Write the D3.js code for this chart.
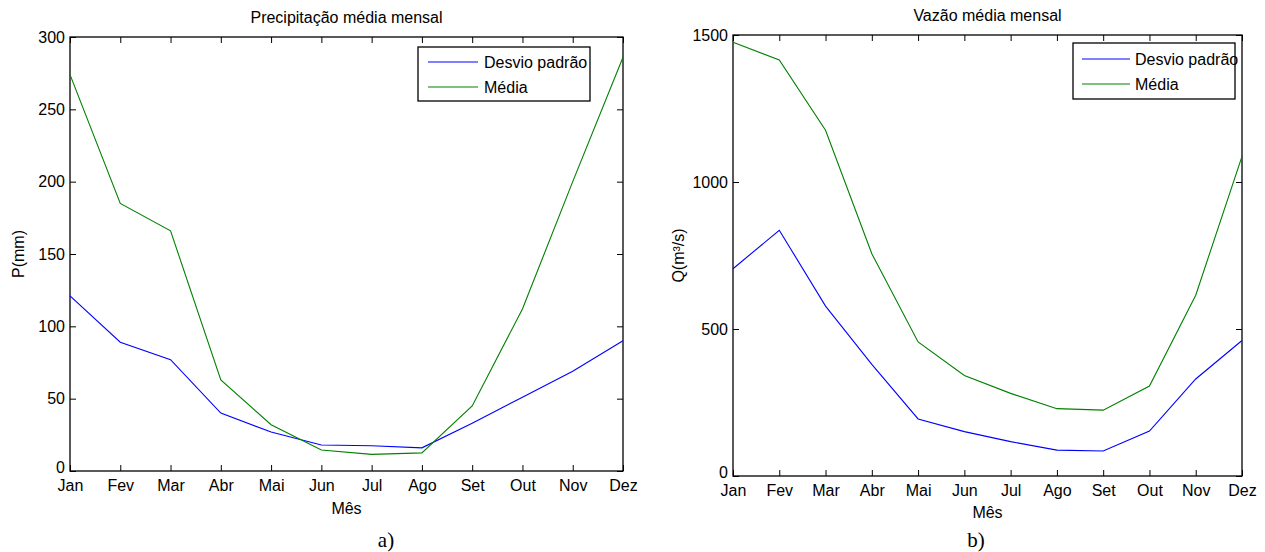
<!DOCTYPE html>
<html>
<head>
<meta charset="utf-8">
<script src="https://cdn.jsdelivr.net/npm/d3@7"></script>
<style>
  html, body { margin: 0; padding: 0; background: #fff; }
  svg text { font-family: "Liberation Sans", Arial, sans-serif; fill: #000; }
</style>
</head>
<body>
<svg id="fig" width="1265" height="552"></svg>
<script>
// Months on the horizontal axis
const months = ["Jan", "Fev", "Mar", "Abr", "Mai", "Jun", "Jul", "Ago", "Set", "Out", "Nov", "Dez"];

// Monthly precipitation (mm)
const precipDesvio = [121, 89, 77, 40, 27, 18, 17.5, 16, 33, 51, 69, 90];
const precipMedia  = [274, 185, 166, 63, 32, 14.5, 11.5, 12.5, 45, 112, 200, 286];
const precipTicks  = [0, 50, 100, 150, 200, 250, 300];

// Monthly discharge (m³/s)
const vazaoDesvio = [705, 836, 578, 380, 194, 151, 117, 88, 85, 153, 330, 461];
const vazaoMedia  = [1475, 1415, 1176, 756, 456, 342, 281, 229, 224, 306, 615, 1087];
const vazaoTicks  = [0, 500, 1000, 1500];

const seriesNames = ["Desvio padrão", "Média"];
const seriesColors = ["#0000ff", "#008000"];

const svg = d3.select("#fig");

function panel(opt) {
  const g = svg.append("g");
  const x = d3.scaleLinear().domain([0, months.length - 1]).range([opt.x0, opt.x1]);
  const y = d3.scaleLinear().domain([0, opt.ymax]).range([opt.y1, opt.y0]);
  const tk = 6;

  // bottom axis with labels, inward ticks
  const bottom = g.append("g").attr("transform", `translate(0,${opt.y1})`)
    .call(d3.axisBottom(x).tickValues(d3.range(months.length))
      .tickFormat(i => months[i]).tickSizeInner(-tk).tickSizeOuter(0).tickPadding(9));
  // top axis, ticks only
  const top = g.append("g").attr("transform", `translate(0,${opt.y0})`)
    .call(d3.axisTop(x).tickValues(d3.range(months.length))
      .tickFormat("").tickSizeInner(-tk).tickSizeOuter(0));
  // left axis with labels
  const left = g.append("g").attr("transform", `translate(${opt.x0},0)`)
    .call(d3.axisLeft(y).tickValues(opt.ticks).tickFormat(d3.format("d"))
      .tickSizeInner(-tk).tickSizeOuter(0).tickPadding(5));
  // right axis, ticks only
  const right = g.append("g").attr("transform", `translate(${opt.x1},0)`)
    .call(d3.axisRight(y).tickValues(opt.ticks).tickFormat("").tickSizeInner(-tk).tickSizeOuter(0));

  [bottom, top, left, right].forEach(a => {
    a.select(".domain").remove();
    a.selectAll(".tick line").attr("stroke", "#000").attr("stroke-width", 1);
    a.selectAll("text").attr("font-size", 16).attr("font-family", "Liberation Sans, Arial, sans-serif").attr("fill", "#000");
  });
  // the zero label sits slightly above the baseline so it clears the month labels
  left.selectAll(".tick text").filter(d => d === 0).attr("dy", "0.1em");

  // plot box
  g.append("rect")
    .attr("x", opt.x0).attr("y", opt.y0)
    .attr("width", opt.x1 - opt.x0).attr("height", opt.y1 - opt.y0)
    .attr("fill", "none").attr("stroke", "#000").attr("stroke-width", 1.3);

  // series lines
  const line = d3.line().x((d, i) => x(i)).y(d => y(d));
  opt.series.forEach((s, k) => {
    g.append("path").datum(s)
      .attr("d", line).attr("fill", "none")
      .attr("stroke", seriesColors[k]).attr("stroke-width", 1.1);
  });

  // title and axis labels
  const cx = (opt.x0 + opt.x1) / 2;
  g.append("text").attr("x", cx).attr("y", opt.titleY).attr("text-anchor", "middle")
    .attr("font-size", 16).text(opt.title);
  g.append("text").attr("x", cx).attr("y", opt.xlabelY).attr("text-anchor", "middle")
    .attr("font-size", 16).text("Mês");
  g.append("text").attr("transform", `translate(${opt.ylabelX},${(opt.y0 + opt.y1) / 2}) rotate(-90)`)
    .attr("text-anchor", "middle").attr("font-size", 16).text(opt.ylabel);

  // legend
  const L = opt.legend;
  const lg = g.append("g").attr("transform", `translate(${L.x},${L.y})`);
  lg.append("rect").attr("width", L.w).attr("height", L.h)
    .attr("fill", "#fff").attr("stroke", "#000").attr("stroke-width", 1.3);
  seriesNames.forEach((name, k) => {
    const ry = L.row0 + k * L.rowStep;
    lg.append("line").attr("x1", L.sx0).attr("x2", L.sx1).attr("y1", ry).attr("y2", ry)
      .attr("stroke", seriesColors[k]).attr("stroke-width", 1.1);
    lg.append("text").attr("x", L.tx).attr("y", ry + 6).attr("font-size", 16).text(name);
  });

  // panel caption
  svg.append("text").attr("x", opt.capX).attr("y", 547).attr("text-anchor", "middle")
    .style("font-family", "'Liberation Serif', 'Times New Roman', serif")
    .attr("font-size", 21).text(opt.caption);
}

panel({
  x0: 70, x1: 623, y0: 37, y1: 471, ymax: 300, ticks: precipTicks,
  series: [precipDesvio, precipMedia],
  title: "Precipitação média mensal", titleY: 23, xlabelY: 514, ylabelX: 24, ylabel: "P(mm)",
  legend: { x: 418, y: 47, w: 172, h: 54, row0: 15, rowStep: 25, sx0: 10, sx1: 60, tx: 66 },
  capX: 386, caption: "a)"
});

panel({
  x0: 733, x1: 1242, y0: 35, y1: 476, ymax: 1500, ticks: vazaoTicks,
  series: [vazaoDesvio, vazaoMedia],
  title: "Vazão média mensal", titleY: 21, xlabelY: 518, ylabelX: 684, ylabel: "Q(m³/s)",
  legend: { x: 1073, y: 43, w: 162, h: 56, row0: 16, rowStep: 25, sx0: 9, sx1: 57, tx: 62 },
  capX: 976, caption: "b)"
});
</script>
</body>
</html>
